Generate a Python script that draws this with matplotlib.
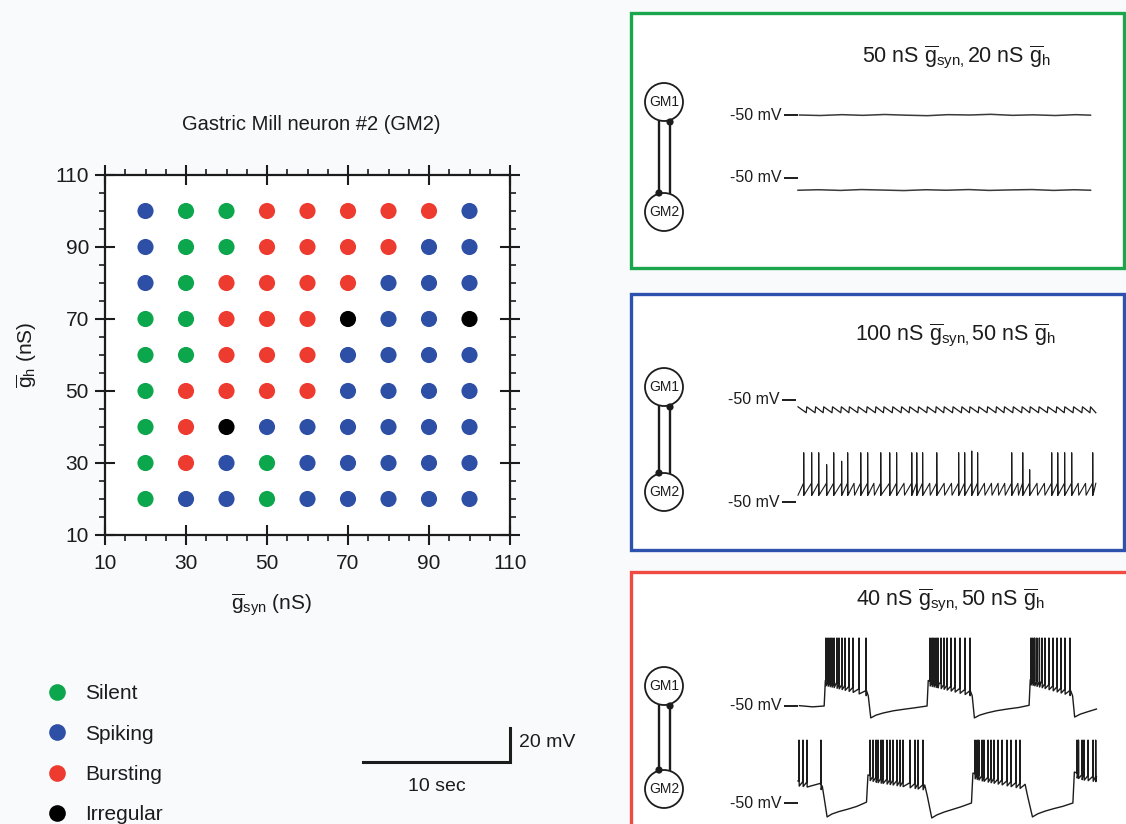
import numpy as np
import matplotlib
matplotlib.use('Agg')
import matplotlib.pyplot as plt
from matplotlib.lines import Line2D
from matplotlib.patches import Circle, Rectangle
from matplotlib.ticker import MultipleLocator

plt.rcParams['font.family'] = ['Liberation Sans', 'DejaVu Sans']
plt.rcParams['mathtext.fontset'] = 'custom'
plt.rcParams['mathtext.rm'] = 'Liberation Sans'
plt.rcParams['mathtext.it'] = 'Liberation Sans:italic'
plt.rcParams['mathtext.bf'] = 'Liberation Sans:bold'

W, H = 1126, 824
INK = '#1c1c1c'

# ------------------------------------------------------------------ data: parameter map
g_syn = [20, 30, 40, 50, 60, 70, 80, 90, 100]
g_h = [100, 90, 80, 70, 60, 50, 40, 30, 20]
categories = ['Silent', 'Spiking', 'Bursting', 'Irregular']
cat_codes = ['S', 'P', 'B', 'I']
cat_colors = ['#0ca64c', '#2d4fa6', '#ee3b30', '#000000']
state_rows = [          # one string per g_h row (top to bottom), one char per g_syn column
    "PSSBBBBBP",
    "PSSBBBBPP",
    "PSBBBBPPP",
    "SSBBBIPPI",
    "SSBBBPPPP",
    "SBBBBPPPP",
    "SBIPPPPPP",
    "SBPSPPPPP",
    "SPPSPPPPP",
]

# ------------------------------------------------------------------ data: voltage traces (s, mV)
green_gm1_t = [0.1, 1.5, 3.0, 4.4, 5.9, 7.3, 8.8, 10.2, 11.7, 13.1, 14.6, 16.0, 17.5, 18.9, 19.9]
green_gm1_v = [-50.0, -50.3, -49.8, -50.2, -49.7, -50.1, -50.4, -49.8, -50.0, -49.6, -50.2, -49.9, -50.3, -49.8, -50.1]
green_gm2_t = [0.0, 1.4, 2.9, 4.3, 5.8, 7.2, 8.7, 10.1, 11.6, 13.0, 14.5, 15.9, 17.4, 18.8, 19.9]
green_gm2_v = [-57.2, -56.9, -57.3, -56.8, -57.1, -57.4, -56.9, -57.2, -56.8, -57.3, -57.0, -56.8, -57.3, -56.9, -57.2]

blue_gm1_teeth = [0.0, 0.6, 1.2, 1.75, 2.35, 2.95, 3.5, 4.1, 4.7, 5.3, 5.85, 6.45, 7.05, 7.6, 8.2,
                  8.8, 9.4, 9.95, 10.55, 11.15, 11.7, 12.3, 12.9, 13.5, 14.05, 14.65, 15.25, 15.8,
                  16.4, 17.0, 17.6, 18.15, 18.75, 19.35, 19.9]
blue_gm1_range = (-57.5, -54.0)

blue_gm2_teeth = [0.0, 0.41, 0.95, 1.43, 1.97, 2.45, 2.99, 3.40, 3.85, 4.29, 4.76, 5.2, 5.65, 6.26,
                  6.73, 7.25, 7.76, 8.10, 8.50, 9.0, 9.46, 9.98, 10.48, 10.95, 11.36, 11.84, 12.24,
                  12.72, 13.2, 13.65, 14.1, 14.56, 15.0, 15.31, 15.78, 16.3, 16.8, 17.28, 17.69,
                  18.16, 18.64, 19.1, 19.6, 20.07]
blue_gm2_range = (-46.0, -39.0)
blue_gm2_spikes = [0.41, 0.95, 1.43, 1.97, 2.45, 2.99, 3.40, 4.29, 4.76, 5.65, 6.26, 6.73, 7.76,
                   8.10, 8.50, 9.46, 10.95, 11.36, 11.84, 12.24, 14.56, 15.31, 15.78, 17.28,
                   17.69, 18.16, 18.64, 20.07]
blue_gm2_peaks = [-21, -21, -21, -28, -21, -26, -21, -21, -21, -21, -21, -21, -21,
                  -21, -21, -21, -21, -21, -20, -21, -21, -21, -31, -21,
                  -21, -21, -21, -21]

red_gm1_t = [0.1, 1.0, 1.78, 1.86, 2.6, 4.66, 4.78, 4.95, 5.3, 5.8, 6.5, 7.3, 8.0, 8.78,
             8.86, 9.6, 11.72, 11.85, 12.0, 12.35, 12.85, 13.5, 14.3, 15.0, 15.72,
             15.8, 16.5, 18.55, 18.68, 18.82, 19.2, 19.7, 20.3]
red_gm1_v = [-49.8, -50.5, -50.0, -35.0, -36.5, -41.0, -44.0, -57.0, -55.4, -54.1, -52.8, -51.8, -51.0, -50.0,
             -35.0, -36.5, -41.0, -44.0, -57.0, -55.4, -54.1, -52.8, -51.7, -50.9, -49.6,
             -34.5, -36.0, -41.0, -44.0, -56.5, -54.8, -53.4, -51.8]
red_gm1_spikes = [1.90, 2.04, 2.18, 2.31, 2.45, 2.65, 2.79, 2.99, 3.20, 3.47, 3.74, 4.15, 4.63,
                  8.98, 9.12, 9.25, 9.39, 9.52, 9.73, 9.93, 10.14, 10.41, 10.68, 11.02, 11.36, 11.70,
                  15.85, 15.98, 16.10, 16.25, 16.42, 16.60, 16.80, 17.07, 17.35, 17.62, 17.89, 18.16, 18.50]
red_gm1_peak = -10.0

red_gm2_t = [0.0, 1.5, 1.65, 1.78, 1.98, 2.3, 2.8, 3.4, 4.0, 4.66, 4.76, 5.4, 8.62, 8.8,
             9.1, 9.45, 9.95, 10.5, 11.1, 11.8, 11.9, 12.5, 15.45, 15.62, 15.95, 16.3, 16.8,
             17.4, 18.0, 18.7, 18.8, 19.4, 20.3]
red_gm2_v = [-37.0, -38.5, -40.0, -47.0, -58.2, -56.5, -55.0, -53.6, -52.0, -49.5, -33.5, -35.0, -39.4, -46.0,
             -58.8, -57.0, -55.3, -53.8, -52.2, -50.0, -32.4, -34.0, -39.0, -46.0, -58.2, -56.4, -54.8,
             -53.3, -52.0, -50.0, -31.8, -33.5, -34.5]
red_gm2_spikes = [0.07, 0.34, 0.61, 1.56,
                  4.90, 5.10, 5.31, 5.44, 5.65, 5.78, 6.05, 6.26, 6.46, 6.73, 6.94, 7.14, 7.62, 7.96, 8.16, 8.50,
                  12.04, 12.18, 12.30, 12.52, 12.65, 12.93, 13.13, 13.33, 13.61, 13.88, 14.22, 14.49, 14.83, 15.10,
                  18.98, 19.08, 19.32, 19.46, 19.73, 20.07, 20.25]
red_gm2_peak = -13.0

scale_time_s = 10
scale_volt_mV = 20

# ------------------------------------------------------------------ geometry helpers
PX_PER_S = 14.7      # 10 s scale bar = 147 px
PX_PER_MV = 1.7      # 20 mV scale bar = 34 px
T0_PX = 798          # x pixel of trace start


def px_axes(x0, y0, x1, y1, **kw):
    return fig.add_axes([x0 / W, 1 - y1 / H, (x1 - x0) / W, (y1 - y0) / H], **kw)


def sawtooth(times, low, high, t_end, rising=True):
    bounds = list(times) + [t_end]
    t, v = [], []
    for a, b in zip(bounds[:-1], bounds[1:]):
        t += [a, b - 0.04]
        v += ([low, high] if rising else [high, low])
    return t, v


def with_spikes(bt, bv, spikes, peaks, ahp=0.0, dt=0.0):
    pts = list(zip(bt, bv))
    for s, pk in zip(spikes, peaks):
        b = float(np.interp(s, bt, bv))
        pts += [(s - dt - 0.004, b), (s - dt, pk), (s - dt + 0.012, b - ahp)]
    pts.sort(key=lambda p: p[0])
    return [p[0] for p in pts], [p[1] for p in pts]


def trace_ax(ref_px, top_px, bot_px, tick_x0=784):
    x0, x1 = 700, 1110
    a = px_axes(x0, top_px, x1, bot_px)
    a.set_xlim((x0 - T0_PX) / PX_PER_S, (x1 - T0_PX) / PX_PER_S)
    a.set_ylim(-50 - (bot_px - ref_px) / PX_PER_MV, -50 + (ref_px - top_px) / PX_PER_MV)
    a.axis('off')
    a.set_zorder(2)
    a.plot([(tick_x0 - T0_PX) / PX_PER_S, (tick_x0 + 14 - T0_PX) / PX_PER_S], [-50, -50],
           color=INK, lw=1.4, solid_capstyle='butt')
    a.text((tick_x0 - 3 - T0_PX) / PX_PER_S, -50, '-50 mV', ha='right', va='center',
           fontsize=11.5, color=INK)
    return a


fig = plt.figure(figsize=(W / 100, H / 100), dpi=100, facecolor='#f9fafc')

# ------------------------------------------------------------------ decoration layer (boxes, diagrams)
deco = px_axes(0, 0, W, H)
deco.set_xlim(0, W)
deco.set_ylim(H, 0)
deco.axis('off')
deco.set_zorder(0)

panel_titles = [
    r'50 nS $\overline{\mathrm{g}}_{\mathrm{syn,}}$20 nS $\overline{\mathrm{g}}_{\mathrm{h}}$',
    r'100 nS $\overline{\mathrm{g}}_{\mathrm{syn,}}$50 nS $\overline{\mathrm{g}}_{\mathrm{h}}$',
    r'40 nS $\overline{\mathrm{g}}_{\mathrm{syn,}}$50 nS $\overline{\mathrm{g}}_{\mathrm{h}}$',
]
panels = [
    dict(color='#1aa64c', box=(631, 13, 1124, 268), gm1=102, gm2=212, ty=57, tx=956),
    dict(color='#2c52ad', box=(631, 294, 1124, 550), gm1=387, gm2=492, ty=335, tx=955),
    dict(color='#ef4b43', box=(631, 572, 1140, 840), gm1=686, gm2=789, ty=600, tx=950),
]
for p, title in zip(panels, panel_titles):
    x0, y0, x1, y1 = p['box']
    deco.add_patch(Rectangle((x0, y0), x1 - x0, y1 - y0, fc='white', ec=p['color'], lw=2.4))
    cx, r = 664, 19
    deco.plot([659, 659], [p['gm1'] + 18, p['gm2'] - 19], color=INK, lw=1.7)
    deco.plot([670, 670], [p['gm1'] + 20, p['gm2'] - 18], color=INK, lw=1.7)
    for cy, lab in [(p['gm1'], 'GM1'), (p['gm2'], 'GM2')]:
        deco.add_patch(Circle((cx, cy), r, fc='white', ec=INK, lw=1.3, zorder=3))
        deco.text(cx, cy, lab, ha='center', va='center', fontsize=10, color=INK, zorder=4)
    deco.add_patch(Circle((670, p['gm1'] + 20), 3.6, fc=INK, ec='none', zorder=5))
    deco.add_patch(Circle((659, p['gm2'] - 19), 3.6, fc=INK, ec='none', zorder=5))
    deco.text(p['tx'], p['ty'], title, ha='center', va='center', fontsize=15.5, color=INK)

# ------------------------------------------------------------------ parameter map
ax = px_axes(105, 175, 510, 535)
ax.set_zorder(1)
ax.set_facecolor('white')
for code, name, col in zip(cat_codes, categories, cat_colors):
    xs, ys = [], []
    for gh, row in zip(g_h, state_rows):
        for gs, c in zip(g_syn, row):
            if c == code:
                xs.append(gs)
                ys.append(gh)
    ax.scatter(xs, ys, s=135, color=col, edgecolors='none', zorder=3)
ax.set_xlim(10, 110)
ax.set_ylim(10, 110)
ax.set_xticks([10, 30, 50, 70, 90, 110])
ax.set_yticks([10, 30, 50, 70, 90, 110])
ax.xaxis.set_minor_locator(MultipleLocator(5))
ax.yaxis.set_minor_locator(MultipleLocator(5))
ax.tick_params(which='major', direction='inout', length=15, width=1.5, labelsize=15,
               top=True, right=True, colors=INK, pad=4)
ax.tick_params(which='minor', direction='out', length=4, width=1.2, top=True, right=True, colors=INK)
ax.tick_params(axis='x', which='major', pad=6)
for sp in ax.spines.values():
    sp.set_linewidth(1.6)
    sp.set_color(INK)

fig.text(311 / W, 1 - 125 / H, 'Gastric Mill neuron #2 (GM2)', ha='center', va='center',
         fontsize=14.5, color=INK)
fig.text(272 / W, 1 - 605 / H, r'$\overline{\mathrm{g}}_{\mathrm{syn}}$ (nS)', ha='center',
         va='center', fontsize=15, color=INK)
fig.text(27 / W, 1 - 355 / H, r'$\overline{\mathrm{g}}_{\mathrm{h}}$ (nS)', ha='center',
         va='center', fontsize=15, color=INK, rotation=90)

handles = [Line2D([], [], ls='', marker='o', markersize=12, color=c, markeredgewidth=0)
           for c in cat_colors]
fig.legend(handles, categories, loc='upper left', bbox_to_anchor=(36 / W, 1 - 676 / H),
           frameon=False, fontsize=15, labelspacing=1.02, handletextpad=0.75,
           borderaxespad=0, handlelength=1.2, labelcolor=INK)

# ------------------------------------------------------------------ scale bar
sb = px_axes(363, 720, 513, 766)
sb.set_xlim(0, 150 / PX_PER_S)
sb.set_ylim(-4 / PX_PER_MV, 42 / PX_PER_MV)
sb.axis('off')
sb.plot([0, scale_time_s, scale_time_s], [0, 0, scale_volt_mV], color=INK, lw=2.2,
        solid_joinstyle='miter', clip_on=False)
sb.text(scale_time_s / 2, -9.5, f'{scale_time_s} sec', ha='center', va='top', fontsize=14,
        color=INK)
sb.text(scale_time_s + 0.6, scale_volt_mV / 2 + 1.5, f'{scale_volt_mV} mV', ha='left',
        va='center', fontsize=14, color=INK)

# ------------------------------------------------------------------ traces
T_END = 20.3
# green: silent
a = trace_ax(115, 60, 150)
a.plot(green_gm1_t, green_gm1_v, color='#3a3a3a', lw=1.1)
a = trace_ax(178, 150, 230)
a.plot(green_gm2_t, green_gm2_v, color='#3a3a3a', lw=1.1)

# blue: spiking
a = trace_ax(400, 370, 430, tick_x0=782)
t, v = sawtooth(blue_gm1_teeth, blue_gm1_range[0], blue_gm1_range[1], T_END, rising=False)
a.plot(t, v, color=INK, lw=0.9)
a = trace_ax(502, 440, 520, tick_x0=782)
t, v = sawtooth(blue_gm2_teeth, blue_gm2_range[0], blue_gm2_range[1], T_END, rising=True)
t, v = with_spikes(t, v, blue_gm2_spikes, blue_gm2_peaks, dt=0.02)
a.plot(t, v, color=INK, lw=0.8)

# red: bursting
a = trace_ax(706, 625, 730)
t, v = with_spikes(red_gm1_t, red_gm1_v, red_gm1_spikes, [red_gm1_peak] * len(red_gm1_spikes), ahp=3.0)
a.plot(t, v, color=INK, lw=1.0)
a = trace_ax(803, 730, 824)
t, v = with_spikes(red_gm2_t, red_gm2_v, red_gm2_spikes, [red_gm2_peak] * len(red_gm2_spikes), ahp=3.0)
a.plot(t, v, color=INK, lw=1.0)

fig.savefig('out.png', dpi=100, facecolor=fig.get_facecolor())
